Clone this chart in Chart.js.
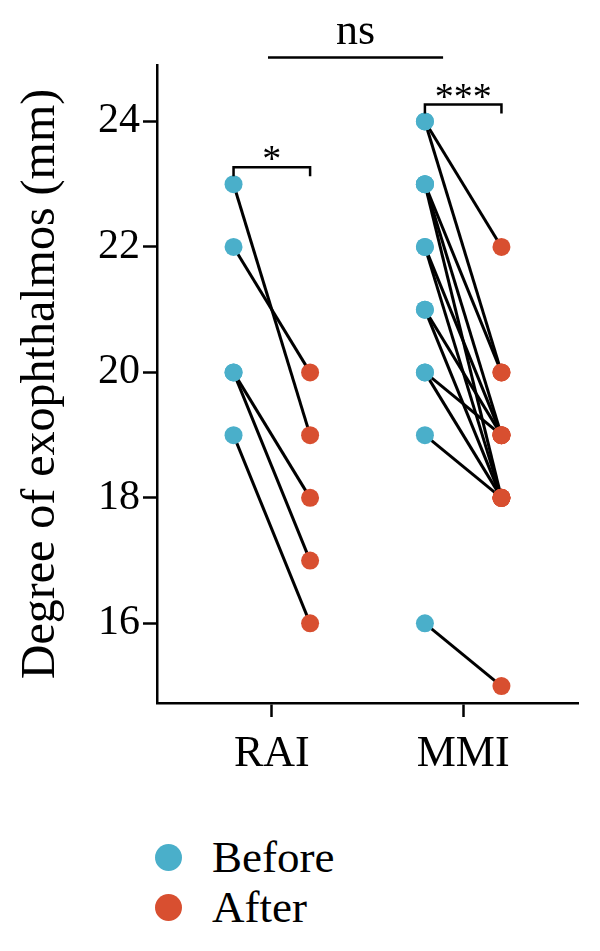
<!DOCTYPE html>
<html>
<head>
<meta charset="utf-8">
<script src="https://cdn.jsdelivr.net/npm/chart.js@4.4.1/dist/chart.umd.min.js"></script>
<style>
  html, body { margin: 0; padding: 0; background: #fff; }
  #wrap { position: relative; width: 600px; height: 951px; }
  #legend { position: absolute; left: 0; top: 830px; font-family: "Liberation Serif", serif; font-size: 45px; color: #000; }
  .item { position: relative; height: 50px; line-height: 54px; }
  .dot { position: absolute; left: 155px; top: 14px; width: 27px; height: 27px; border-radius: 50%; }
  .txt { position: absolute; left: 212px; top: 0; white-space: nowrap; }
</style>
</head>
<body>
<div id="wrap">
  <canvas id="myChart" width="600" height="800"></canvas>
  <div id="legend"></div>
</div>
<script>
'use strict';

// groups on the x axis
const categories = ['RAI', 'MMI'];
const yTicks = [16, 18, 20, 22, 24];

// paired values, before -> after (mm)
const raiBefore = [23, 22, 20, 20, 19];
const raiAfter  = [19, 20, 18, 17, 16];
const mmiBefore = [24, 24, 23, 23, 23, 22, 22, 21, 21, 20, 20, 19, 16];
const mmiAfter  = [22, 20, 20, 19, 18, 19, 18, 19, 18, 19, 18, 18, 15];

// significance labels
const pairSig = ['*', '***'];
const groupSig = 'ns';

const blue = '#4AAFCA';
const red = '#D84F30';
const shift = 0.2; // before/after offset around the group centre

const groups = [
  { before: raiBefore, after: raiAfter },
  { before: mmiBefore, after: mmiAfter }
];

let datasets = [];
let beforePts = [];
let afterPts = [];

groups.forEach(function (g, gi) {
  const cx = gi + 1;
  for (let i = 0; i < g.before.length; i++) {
    datasets.push({
      type: 'scatter',
      showLine: true,
      data: [{ x: cx - shift, y: g.before[i] }, { x: cx + shift, y: g.after[i] }],
      borderColor: '#000',
      borderWidth: 3,
      pointRadius: 0,
      order: 2
    });
    beforePts.push({ x: cx - shift, y: g.before[i] });
    afterPts.push({ x: cx + shift, y: g.after[i] });
  }
});

datasets.push({ label: 'Before', data: beforePts, backgroundColor: blue, borderWidth: 0, pointRadius: 9, order: 0 });
datasets.push({ label: 'After', data: afterPts, backgroundColor: red, borderWidth: 0, pointRadius: 9, order: 0 });

// brackets, stars and the ns bar
const annotate = {
  id: 'annotate',
  afterDraw(chart) {
    const ctx = chart.ctx;
    const x = chart.scales.x, y = chart.scales.y;
    ctx.save();
    ctx.strokeStyle = '#000';
    ctx.fillStyle = '#000';
    ctx.lineWidth = 2.5;
    groups.forEach(function (g, gi) {
      const x0 = x.getPixelForValue(gi + 1 - shift);
      const x1 = x.getPixelForValue(gi + 1 + shift);
      const yy = y.getPixelForValue(Math.max.apply(null, g.before) + 0.27);
      ctx.beginPath();
      ctx.moveTo(x0, yy + 9);
      ctx.lineTo(x0, yy);
      ctx.lineTo(x1, yy);
      ctx.lineTo(x1, yy + 9);
      ctx.stroke();
      ctx.font = '38px "Liberation Serif"';
      ctx.textAlign = 'center';
      ctx.textBaseline = 'alphabetic';
      ctx.fillText(pairSig[gi], (x0 + x1) / 2, yy + 4);
    });
    const nx0 = x.getPixelForValue(0.98);
    const nx1 = x.getPixelForValue(1.895);
    const ny = y.getPixelForValue(25.02);
    ctx.beginPath();
    ctx.moveTo(nx0, ny);
    ctx.lineTo(nx1, ny);
    ctx.stroke();
    ctx.font = '44px "Liberation Serif"';
    ctx.textAlign = 'center';
    ctx.fillText(groupSig, (nx0 + nx1) / 2, ny - 13);
    ctx.restore();
  }
};

Chart.defaults.font.family = '"Liberation Serif", serif';
Chart.defaults.color = '#000';

const chart = new Chart(document.getElementById('myChart'), {
  type: 'scatter',
  data: { datasets: datasets },
  plugins: [annotate],
  options: {
    responsive: false,
    animation: false,
    layout: { padding: { top: 65, right: 22, left: 0, bottom: 0 } },
    plugins: { legend: { display: false }, tooltip: { enabled: false } },
    scales: {
      x: {
        type: 'linear',
        min: 0.4,
        max: 2.6,
        afterBuildTicks: function (s) { s.ticks = categories.map(function (c, i) { return { value: i + 1 }; }); },
        afterFit: function (s) { s.height = 97; },
        ticks: {
          font: { size: 44 },
          padding: 11,
          callback: function (v) { return categories[v - 1]; }
        },
        grid: { display: true, drawOnChartArea: false, drawTicks: true, tickLength: 14, tickWidth: 2.5, tickColor: '#000' },
        border: { display: true, color: '#000', width: 2.5 }
      },
      y: {
        min: 14.73,
        max: 24.9,
        afterBuildTicks: function (s) { s.ticks = yTicks.map(function (v) { return { value: v }; }); },
        afterFit: function (s) { s.width = 157; },
        ticks: { font: { size: 42 }, padding: 3 },
        title: {
          display: true,
          text: 'Degree of exophthalmos (mm)',
          font: { size: 48 },
          padding: { top: 13, bottom: 0 }
        },
        grid: { display: true, drawOnChartArea: false, drawTicks: true, tickLength: 14, tickWidth: 2.5, tickColor: '#000' },
        border: { display: true, color: '#000', width: 2.5 }
      }
    }
  }
});

// html legend from the two point datasets
const legendBox = document.getElementById('legend');
chart.data.datasets.filter(function (d) { return d.label; }).forEach(function (d) {
  const item = document.createElement('div');
  item.className = 'item';
  const dot = document.createElement('span');
  dot.className = 'dot';
  dot.style.background = d.backgroundColor;
  const txt = document.createElement('span');
  txt.className = 'txt';
  txt.textContent = d.label;
  item.appendChild(dot);
  item.appendChild(txt);
  legendBox.appendChild(item);
});
</script>
</body>
</html>
